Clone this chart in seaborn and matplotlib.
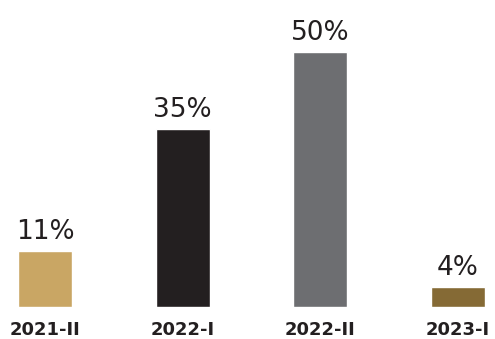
import matplotlib
matplotlib.use("Agg")
import matplotlib.pyplot as plt
import seaborn as sns
import pandas as pd

categories = ["2021-II", "2022-I", "2022-II", "2023-I"]
values = [11, 35, 50, 4]
labels = ["11%", "35%", "50%", "4%"]
colors = ["#C9A664", "#231F20", "#6D6E71", "#856A35"]

sns.set_style("white")
plt.rcParams['font.family'] = ['DejaVu Sans']

df = pd.DataFrame({"cat": categories, "val": values})

fig = plt.figure(figsize=(4.95, 3.39), dpi=100)
ax = fig.add_axes([0, 1 - 307/339, 1, 307/339])
sns.barplot(data=df, x="cat", y="val", hue="cat", palette=colors, width=0.39,
            legend=False, ax=ax, saturation=1)
ax.set_xlim(-0.327, 3.269)
ax.set_ylim(0, 60.2)
ax.set_xlabel("")
ax.set_ylabel("")
ax.set_yticks([])
for s in ax.spines.values():
    s.set_visible(False)
ax.tick_params(axis="x", length=0, pad=10)
for t in ax.get_xticklabels():
    t.set_fontsize(13)
    t.set_fontweight("bold")
    t.set_color("#231F20")
for i, (v, lab) in enumerate(zip(values, labels)):
    ax.annotate(lab, (i, v), xytext=(0, 4), textcoords="offset points",
                ha="center", va="bottom", fontsize=19, color="#231F20")
fig.savefig("out.png", dpi=100)
